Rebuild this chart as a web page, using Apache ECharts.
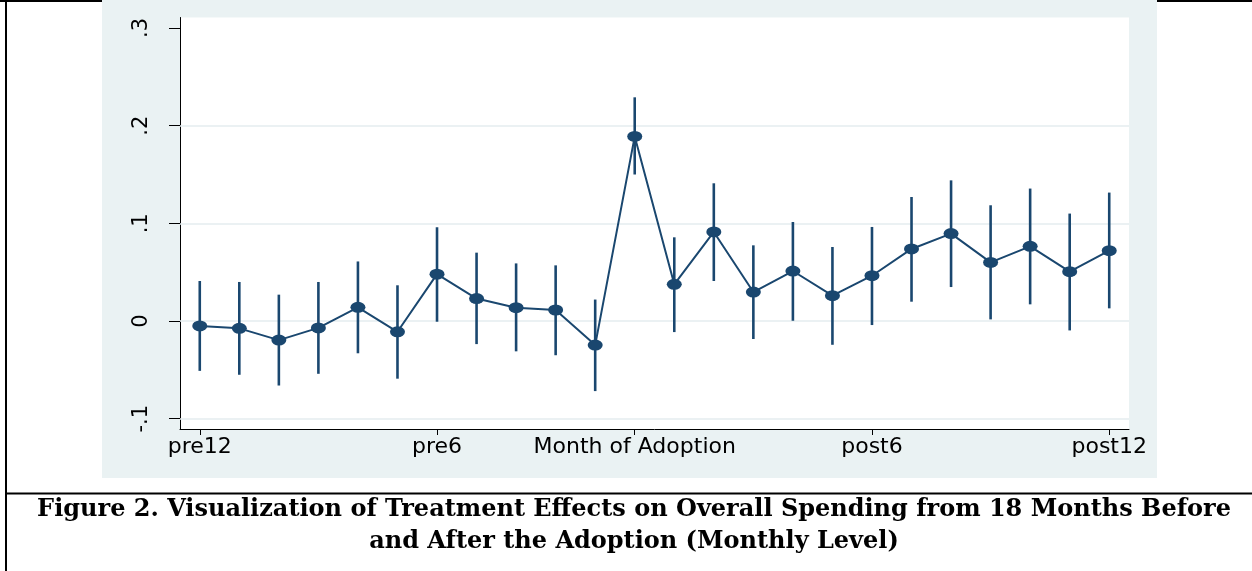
<!DOCTYPE html>
<html>
<head>
<meta charset="utf-8">
<style>
  html, body { margin: 0; padding: 0; background: #ffffff; }
  #chart { width: 1252px; height: 571px; }
</style>
<script src="https://cdn.jsdelivr.net/npm/echarts@6/dist/echarts.min.js"></script>
</head>
<body>
<div id="chart"></div>
<script>
// ---- data ----
const categories = ['pre12','pre11','pre10','pre9','pre8','pre7','pre6','pre5','pre4','pre3','pre2',
  'Month of Adoption','post1','post2','post3','post4','post5','post6','post7','post8','post9','post10','post11','post12'];
const xTickLabels = ['pre12','pre6','Month of Adoption','post6','post12'];
const estimates = [-0.005,-0.0075,-0.0195,-0.007,0.014,-0.011,0.048,0.023,0.0137,0.0113,-0.0246,
  0.189,0.0376,0.0912,0.0297,0.0512,0.026,0.0464,0.0738,0.0895,0.060,0.0765,0.0505,0.072];
const upperCI = [0.041,0.040,0.027,0.040,0.061,0.0366,0.096,0.070,0.059,0.057,0.022,
  0.229,0.0857,0.141,0.0775,0.1014,0.0758,0.0963,0.127,0.144,0.1185,0.1356,0.110,0.1315];
const lowerCI = [-0.051,-0.055,-0.066,-0.054,-0.033,-0.059,-0.0007,-0.0236,-0.031,-0.035,-0.0717,
  0.150,-0.0113,0.041,-0.0184,0.0003,-0.0243,-0.0041,0.0198,0.0348,0.0017,0.0171,-0.0096,0.013];
const yTickValues = [-0.1, 0, 0.1, 0.2, 0.3];
const yTickLabels = ['-.1', '0', '.1', '.2', '.3'];
const gridValues = [-0.1, 0, 0.1, 0.2];
const captionLines = ['Figure 2. Visualization of Treatment Effects on Overall Spending from 18 Months Before',
  'and After the Adoption (Monthly Level)'];

// ---- chart ----
const NAVY = '#1a476f';
const chart = echarts.init(document.getElementById('chart'), null, { renderer: 'canvas' });

const showIdx = i => xTickLabels.indexOf(categories[i]) >= 0;

const option = {
  animation: false,
  backgroundColor: '#ffffff',
  graphic: [
    { type: 'rect', z: -10, shape: { x: 102, y: 0, width: 1055, height: 478 }, style: { fill: '#eaf2f3' } },
    { type: 'line', z: -11, shape: { x1: 0, y1: 1, x2: 1252, y2: 1 }, style: { stroke: '#000', lineWidth: 2 } },
    { type: 'line', z: -9, shape: { x1: 6, y1: 0, x2: 6, y2: 571 }, style: { stroke: '#000', lineWidth: 2 } },
    { type: 'line', z: -9, shape: { x1: 6, y1: 493.5, x2: 1252, y2: 493.5 }, style: { stroke: '#000', lineWidth: 2 } }
  ],
  title: {
    text: captionLines.join('\n'),
    left: 629,
    top: 489,
    textAlign: 'center',
    textStyle: {
      fontFamily: 'DejaVu Serif',
      fontWeight: 'bold',
      fontSize: 24,
      lineHeight: 32,
      color: '#000'
    }
  },
  grid: {
    left: 180, top: 17.5, width: 949, height: 411.5,
    show: true, backgroundColor: '#ffffff', borderWidth: 0,
    containLabel: false
  },
  xAxis: {
    type: 'category',
    data: categories,
    boundaryGap: true,
    axisLine: { show: true, onZero: false, lineStyle: { color: '#000', width: 1 } },
    axisTick: { show: true, alignWithLabel: true, length: 6, interval: (i) => showIdx(i), lineStyle: { color: '#000' } },
    axisLabel: {
      interval: (i) => showIdx(i),
      color: '#000', fontFamily: 'DejaVu Sans', fontSize: 22, margin: 7
    },
    splitLine: { show: false }
  },
  yAxis: {
    type: 'value',
    min: -0.1105, max: 0.3107,
    axisLine: { show: true, onZero: false, lineStyle: { color: '#000', width: 1 } },
    axisTick: { show: true, length: 11, customValues: yTickValues, lineStyle: { color: '#000' } },
    axisLabel: {
      customValues: yTickValues,
      rotate: 90,
      margin: 28,
      color: '#000', fontFamily: 'DejaVu Sans', fontSize: 21,
      formatter: (v) => {
        let best = 0;
        yTickValues.forEach((t, i) => { if (Math.abs(t - v) < Math.abs(yTickValues[best] - v)) best = i; });
        return yTickLabels[best];
      }
    },
    splitLine: { show: false }
  },
  series: [
    {
      type: 'custom',
      name: 'CI',
      z: 3,
      renderItem: (params, api) => {
        const i = api.value(0);
        const lo = api.coord([i, api.value(1)]);
        const hi = api.coord([i, api.value(2)]);
        return {
          type: 'line',
          shape: { x1: lo[0], y1: lo[1], x2: hi[0], y2: hi[1] },
          style: { stroke: NAVY, lineWidth: 2.6 }
        };
      },
      encode: { x: 0, y: [1, 2] },
      data: categories.map((c, i) => [i, lowerCI[i], upperCI[i]]),
      markLine: {
        silent: true, symbol: 'none', z: 1,
        label: { show: false },
        lineStyle: { color: '#e4ecef', type: 'solid', width: 1.5 },
        data: gridValues.map(v => ({ yAxis: v }))
      }
    },
    {
      type: 'line',
      name: 'Estimate',
      z: 4,
      data: estimates,
      symbol: 'circle',
      symbolSize: [15, 11],
      showSymbol: true,
      itemStyle: { color: NAVY },
      lineStyle: { color: NAVY, width: 2 }
    }
  ]
};
chart.setOption(option);
</script>
</body>
</html>
